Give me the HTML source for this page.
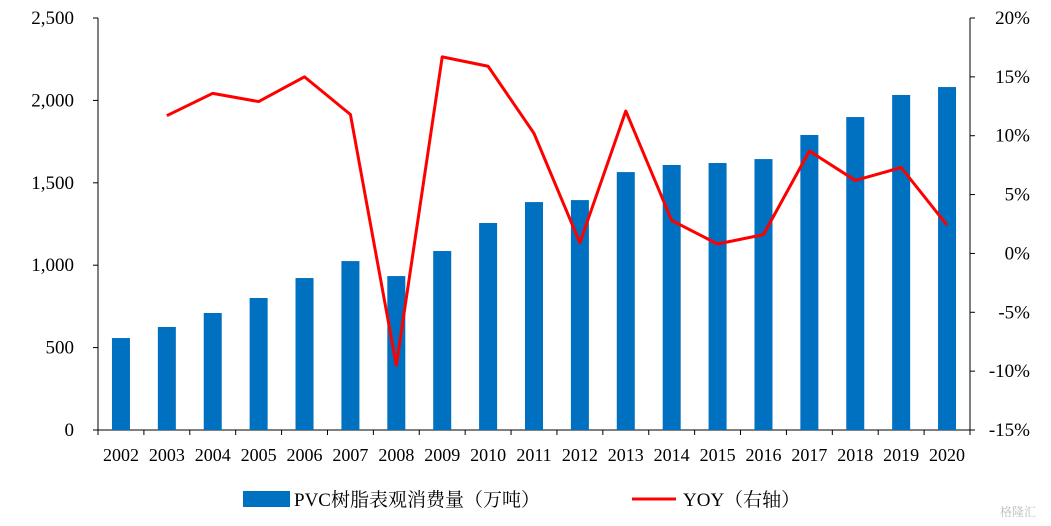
<!DOCTYPE html>
<html><head><meta charset="utf-8"><style>
html,body{margin:0;padding:0;background:#fff;}
svg{display:block;font-family:"Liberation Serif","Noto Serif CJK SC",serif;}
</style></head><body>
<svg id="chart" width="1051" height="526">
<g id="axes"></g><g id="bars"></g><g id="line"></g>
<g>
<rect x="243" y="491" width="47" height="16" fill="#0070C0"/>
<text x="294" y="506" font-size="19">PVC树脂表观消费量（万吨）</text>
<line x1="632" y1="499" x2="676" y2="499" stroke="#FF0000" stroke-width="3"/>
<text x="683" y="506" font-size="19">YOY（右轴）</text>
</g>
<text x="1000" y="516" font-size="12" fill="#bbb">格隆汇</text>
</svg>
<script>
const years=["2002","2003","2004","2005","2006","2007","2008","2009","2010","2011","2012","2013","2014","2015","2016","2017","2018","2019","2020"];
const consumption=[558,625,710,801,922,1025,934,1086,1256,1383,1395,1565,1608,1620,1644,1790,1899,2033,2081];
const yoy=[null,11.7,13.6,12.9,15.0,11.8,-9.5,16.7,15.9,10.2,0.9,12.1,2.8,0.8,1.6,8.7,6.2,7.3,2.4];
const leftTicks=[0,500,1000,1500,2000,2500];
const leftLabels=["0","500","1,000","1,500","2,000","2,500"];
const rightTicks=[-15,-10,-5,0,5,10,15,20];
const NS="http://www.w3.org/2000/svg";
const x0=98,x1=970,yB=430,yT=18;
const yL=v=>yB-(v/2500)*(yB-yT);
const yR=v=>yB-((v+15)/35)*(yB-yT);
const step=(x1-x0)/years.length;
const xC=i=>x0+step*(i+0.5);
function mk(tag,attrs,parent){const e=document.createElementNS(NS,tag);for(const k in attrs)e.setAttribute(k,attrs[k]);parent.appendChild(e);return e;}
const ax=document.getElementById('axes'),bg=document.getElementById('bars'),lg=document.getElementById('line');
let e=mk('line',{x1:x0,y1:yT,x2:x0,y2:yB,stroke:'#000'},ax);


e=mk('line',{x1:x1,y1:yT,x2:x1,y2:yB,stroke:'#000'},ax);


e=mk('line',{x1:x0,y1:yB,x2:x1,y2:yB,stroke:'#000'},ax);


leftTicks.forEach((v,i)=>{const y=yL(v);
mk('line',{x1:x0-5,y1:y,x2:x0,y2:y,stroke:'#000'},ax);
const t=mk('text',{x:x0-24,y:y+6,'text-anchor':'end','font-size':19},ax);t.textContent=leftLabels[i];

});
rightTicks.forEach(v=>{const y=yR(v);
mk('line',{x1:x1,y1:y,x2:x1+5,y2:y,stroke:'#000'},ax);
const t=mk('text',{x:1030,y:y+6,'text-anchor':'end','font-size':19},ax);t.textContent=v+'%';

});
years.forEach((yr,i)=>{
mk('line',{x1:x0+step*i,y1:yB,x2:x0+step*i,y2:yB+5,stroke:'#000'},ax);
const t=mk('text',{x:xC(i),y:yB+31,'text-anchor':'middle','font-size':18},ax);t.textContent=yr;


const r=mk('rect',{x:xC(i)-9,y:yL(consumption[i]),width:18,height:yB-yL(consumption[i]),fill:'#0070C0'},bg);

});
mk('line',{x1:x1,y1:yB,x2:x1,y2:yB+5,stroke:'#000'},ax);
const pts=[];yoy.forEach((v,i)=>{if(v!==null)pts.push(xC(i)+','+yR(v));});
const p=mk('polyline',{points:pts.join(' '),fill:'none',stroke:'#FF0000','stroke-width':3,'stroke-linejoin':'round'},lg);


</script>
</body></html>
